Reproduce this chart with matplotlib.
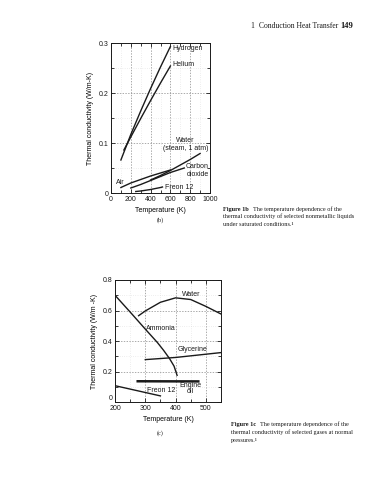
#!/usr/bin/env python3
"""Book page: thermal conductivity vs temperature for gases (b) and liquids (c)."""

import matplotlib
matplotlib.use("Agg")
import matplotlib.pyplot as plt
from matplotlib.ticker import MultipleLocator

# ---- (b) gases ----
h2_t = [100, 200, 300, 400, 500, 600]
h2_k = [0.066, 0.117, 0.164, 0.209, 0.252, 0.293]
he_t = [130, 200, 300, 400, 500, 600]
he_k = [0.086, 0.112, 0.149, 0.185, 0.220, 0.254]
steam_t = [400, 500, 600, 700, 800, 900]
steam_k = [0.026, 0.035, 0.045, 0.056, 0.067, 0.079]
air_t = [100, 200, 300, 400, 500, 600]
air_k = [0.011, 0.020, 0.027, 0.034, 0.040, 0.046]
co2_t = [200, 300, 400, 500, 600, 740]
co2_k = [0.010, 0.017, 0.025, 0.033, 0.041, 0.050]
r12g_t = [250, 300, 400, 500, 520]
r12g_k = [0.003, 0.004, 0.007, 0.011, 0.012]

# ---- (c) liquids ----
water_t = [278, 300, 350, 400, 450, 500, 550]
water_k = [0.566, 0.597, 0.654, 0.683, 0.672, 0.627, 0.577]
nh3_t = [200, 250, 300, 340, 360, 380, 395, 405]
nh3_k = [0.70, 0.59, 0.478, 0.39, 0.34, 0.285, 0.235, 0.175]
glyc_t = [300, 400, 550]
glyc_k = [0.278, 0.292, 0.324]
oil_t = [275, 475]
oil_k = [0.136, 0.135]
r12l_t = [200, 350]
r12l_k = [0.107, 0.040]

INK = "#1a1a1a"
SANS = "Liberation Sans"
SERIF = "Liberation Serif"
FS = 5.0

plt.rcParams["font.family"] = SANS
plt.rcParams["text.color"] = INK
plt.rcParams["axes.edgecolor"] = INK
plt.rcParams["xtick.color"] = INK
plt.rcParams["ytick.color"] = INK


def style_axes(ax):
    ax.tick_params(which="both", direction="in", top=True, right=True,
                   labelsize=FS, width=0.6, pad=2)
    ax.tick_params(which="major", length=3)
    ax.tick_params(which="minor", length=2)
    ax.grid(which="major", color="#888888", linestyle=(0, (2, 2)), linewidth=0.5)
    ax.grid(which="minor", color="#cccccc", linestyle=(0, (1, 3)), linewidth=0.4)
    ax.set_axisbelow(True)
    for s in ax.spines.values():
        s.set_linewidth(0.7)


def caption(fig, x, ys, tag, lines):
    # bold tag, then the rest of line one right after it
    r = fig.canvas.get_renderer()
    t = fig.text(x, 1 - ys[0] / 480, tag, fontsize=4.5, family=SERIF,
                 weight="bold", va="center", ha="left")
    w = t.get_window_extent(renderer=r).width / fig.bbox.width
    fig.text(x + w + 4 / 388, 1 - ys[0] / 480, lines[0], fontsize=4.5,
             family=SERIF, va="center", ha="left")
    for y, s in zip(ys[1:], lines[1:]):
        fig.text(x, 1 - y / 480, s, fontsize=4.5, family=SERIF,
                 va="center", ha="left")


fig = plt.figure(figsize=(3.88, 4.8), dpi=100)

# header
fig.text(250 / 388, 1 - 26 / 480, "1", fontsize=5.5, family=SERIF, va="center")
fig.text(259 / 388, 1 - 26 / 480, "Conduction Heat Transfer", fontsize=5.5,
         family=SERIF, va="center")
fig.text(340 / 388, 1 - 26 / 480, "149", fontsize=6.2, family=SERIF,
         weight="bold", va="center")

# ---------- (b) ----------
ax1 = fig.add_axes([111 / 388, 1 - 193 / 480, 99 / 388, 150 / 480])
lw = 1.0
for t, k in [(h2_t, h2_k), (he_t, he_k), (steam_t, steam_k),
             (air_t, air_k), (co2_t, co2_k), (r12g_t, r12g_k)]:
    ax1.plot(t, k, color=INK, lw=lw)
ax1.set_xlim(0, 1000)
ax1.set_ylim(0, 0.3)
ax1.xaxis.set_major_locator(MultipleLocator(200))
ax1.xaxis.set_minor_locator(MultipleLocator(100))
ax1.yaxis.set_major_locator(MultipleLocator(0.1))
ax1.yaxis.set_minor_locator(MultipleLocator(0.05))
ax1.set_yticks([0, 0.1, 0.2, 0.3])
ax1.set_yticklabels(["0", "0.1", "0.2", "0.3"])
style_axes(ax1)
ax1.set_xlabel("Temperature (K)", fontsize=FS, labelpad=3)
ax1.set_ylabel("Thermal conductivity (W/m-K)", fontsize=FS, labelpad=3)

tk = dict(fontsize=FS, color=INK)
ax1.text(615, 0.29, "Hydrogen", va="center", ha="left", **tk)
ax1.text(615, 0.256, "Helium", va="center", ha="left", **tk)
ax1.text(750, 0.104, "Water", va="center", ha="center", **tk)
ax1.text(760, 0.090, "(steam, 1 atm)", va="center", ha="center", **tk)
ax1.text(755, 0.052, "Carbon", va="center", ha="left", **tk)
ax1.text(770, 0.038, "dioxide", va="center", ha="left", **tk)
ax1.text(95, 0.022, "Air", va="center", ha="center", **tk)
ax1.text(550, 0.011, "Freon 12", va="center", ha="left", **tk)

# ---------- (c) ----------
ax2 = fig.add_axes([115 / 388, 1 - 402 / 480, 106 / 388, 122 / 480])
for t, k in [(water_t, water_k), (nh3_t, nh3_k), (glyc_t, glyc_k),
             (r12l_t, r12l_k)]:
    ax2.plot(t, k, color=INK, lw=lw)
ax2.plot(oil_t, oil_k, color=INK, lw=1.8)
ax2.set_xlim(200, 550)
ax2.set_ylim(0, 0.8)
ax2.xaxis.set_major_locator(MultipleLocator(100))
ax2.xaxis.set_minor_locator(MultipleLocator(50))
ax2.yaxis.set_major_locator(MultipleLocator(0.2))
ax2.yaxis.set_minor_locator(MultipleLocator(0.1))
ax2.set_yticks([0, 0.2, 0.4, 0.6, 0.8])
ax2.set_yticklabels(["0", "0.2", "0.4", "0.6", "0.8"])
style_axes(ax2)
# corner "0" sits a touch above the "200" below it
ax2.get_yticklabels()[0].set_va("bottom")
ax2.set_xlabel("Temperature (K)", fontsize=FS, labelpad=3)
ax2.set_ylabel("Thermal conductivity (W/m -K)", fontsize=FS, labelpad=3)

ax2.text(453, 0.708, "Water", va="center", ha="center", **tk)
ax2.text(352, 0.483, "Ammonia", va="center", ha="center", **tk)
ax2.text(455, 0.341, "Glycerine", va="center", ha="center", **tk)
ax2.text(448, 0.110, "Engine", va="center", ha="center", **tk)
ax2.text(448, 0.070, "oil", va="center", ha="center", **tk)
ax2.text(352, 0.074, "Freon 12", va="center", ha="center", **tk)

# panel tags
fig.text(160 / 388, 1 - 220 / 480, "(b)", fontsize=4.5, family=SERIF,
         ha="center", va="center")
fig.text(160 / 388, 1 - 433 / 480, "(c)", fontsize=4.5, family=SERIF,
         ha="center", va="center")

# captions
caption(fig, 223 / 388, [209, 216.5, 224], "Figure 1b",
        ["The temperature dependence of the",
         "thermal conductivity of selected nonmetallic liquids",
         "under saturated conditions.\u00b9"])
caption(fig, 231 / 388, [424.5, 432.5, 440.5], "Figure 1c",
        ["The temperature dependence of the",
         "thermal conductivity of selected gases at normal",
         "pressures.\u00b9"])

fig.savefig("out.png", dpi=100)
